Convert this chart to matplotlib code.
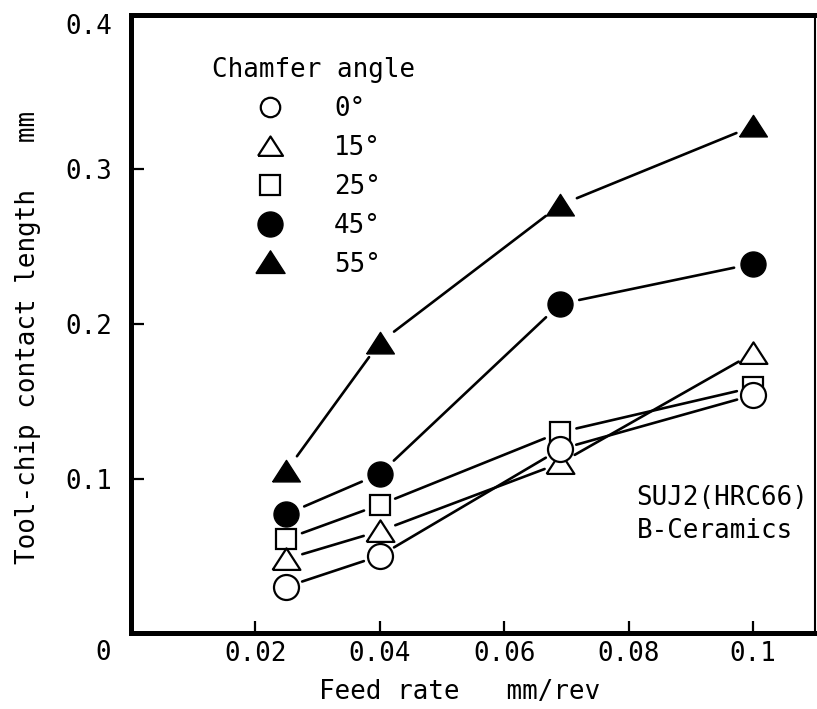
import numpy as np
import matplotlib
matplotlib.use('Agg')
import matplotlib.pyplot as plt
from matplotlib.lines import Line2D

plt.rcParams['font.family'] = 'DejaVu Sans Mono'
plt.rcParams['font.size'] = 18.6

# feed rate (mm/rev) and tool-chip contact length (mm) per chamfer angle
feed = [0.025, 0.04, 0.069, 0.1]
angles = ['0°', '15°', '25°', '45°', '55°']
len_0 = [0.030, 0.050, 0.119, 0.154]
len_15 = [0.048, 0.066, 0.110, 0.181]
len_25 = [0.061, 0.083, 0.130, 0.159]
len_45 = [0.077, 0.103, 0.213, 0.239]
len_55 = [0.105, 0.188, 0.277, 0.328]

tri = [(-1, -0.75), (1, -0.75), (0, 0.8), (-1, -0.75)]
styles = {
    '0°': dict(marker='o', ms=18, mfc='white', mew=1.6),
    '15°': dict(marker=tri, ms=20, mfc='white', mew=1.6),
    '25°': dict(marker='s', ms=14.5, mfc='white', mew=1.6),
    '45°': dict(marker='o', ms=18, mfc='black', mew=1.0),
    '55°': dict(marker=tri, ms=20, mfc='black', mew=1.0),
}
key_sizes = {'0°': 14, '15°': 18, '25°': 14, '45°': 18, '55°': 21}
series = {'0°': len_0, '15°': len_15, '25°': len_25, '45°': len_45, '55°': len_55}
gaps = {'0°': 12, '15°': 12, '25°': 12, '45°': 14, '55°': 13}

fig = plt.figure(figsize=(8.17, 7.09), dpi=100)
ax = fig.add_axes([0.160, 0.107, 0.838, 0.872])
ax.set_xlim(0, 0.11)
ax.set_ylim(0, 0.4)

# connecting segments stop short of the symbols
for name, vals in series.items():
    for i in range(len(feed) - 1):
        ax.annotate('', xy=(feed[i + 1], vals[i + 1]), xytext=(feed[i], vals[i]),
                    arrowprops=dict(arrowstyle='-', lw=1.9, color='black',
                                    shrinkA=gaps[name], shrinkB=gaps[name]))

# open circles end up on top of squares and triangles
for name in ['55°', '45°', '25°', '15°', '0°']:
    ax.plot(feed, series[name], ls='none', mec='black', zorder=3, **styles[name])

handles = []
for a in angles:
    st = dict(styles[a])
    st['ms'] = key_sizes[a]
    handles.append(Line2D([], [], ls='none', mec='black', **st))
leg = ax.legend(handles, angles, title='Chamfer angle', loc='upper left',
                bbox_to_anchor=(0.118, 0.932), frameon=False, alignment='left',
                borderpad=0, borderaxespad=0, handlelength=4.5, handletextpad=0.25,
                labelspacing=0.5, title_fontsize=18.6, fontsize=18.6)

ax.text(0.0813, 0.0765, 'SUJ2(HRC66)\nB-Ceramics', ha='left', va='center',
        linespacing=1.35)

ax.set_xticks([0.02, 0.04, 0.06, 0.08, 0.1])
ax.set_xticklabels(['0.02', '0.04', '0.06', '0.08', '0.1'])
ax.set_yticks([0.1, 0.2, 0.3])
ax.set_yticklabels(['0.1', '0.2', '0.3'])
ax.tick_params(direction='in', length=9, width=1.6, color='black')
ax.tick_params(axis='x', pad=6)
ax.tick_params(axis='y', pad=13)

ax.annotate('0.4', xy=(0, 0.4), xycoords='data', xytext=(-13, -9),
            textcoords='offset points', ha='right', va='center')
ax.annotate('0', xy=(0, 0), xycoords='data', xytext=(-20, -14),
            textcoords='offset points', ha='center', va='center')

ax.set_xlabel('Feed rate   mm/rev', va='center')
ax.xaxis.set_label_coords(0.48, -0.095)
ax.set_ylabel('Tool-chip contact length   mm')
ax.yaxis.set_label_coords(-0.131, 0.478)

for side in ['left', 'bottom', 'top']:
    ax.spines[side].set_linewidth(3.6)
ax.spines['right'].set_linewidth(1.5)

fig.savefig('out.png', dpi=100)
